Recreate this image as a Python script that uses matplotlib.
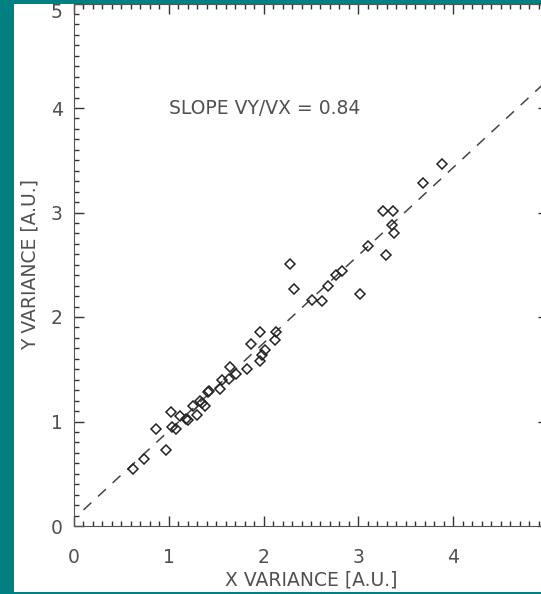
import matplotlib.pyplot as plt
import numpy as np
from matplotlib.patches import Rectangle
from matplotlib.ticker import MultipleLocator

# scatter values
x_var = [0.62, 0.74, 0.97, 0.86, 1.02, 1.03, 1.08, 1.12, 1.18, 1.20, 1.26, 1.30,
         1.33, 1.35, 1.38, 1.41, 1.54, 1.42, 1.56, 1.64, 1.65, 1.71, 1.82, 1.87,
         1.96, 1.98, 1.96, 2.02, 2.12, 2.13, 2.28, 2.32, 2.51, 2.62, 2.68, 2.76,
         2.83, 3.02, 3.10, 3.29, 3.26, 3.36, 3.35, 3.38, 3.68, 3.88]
y_var = [0.55, 0.64, 0.73, 0.93, 1.09, 0.95, 0.93, 1.05, 1.02, 1.01, 1.15, 1.06,
         1.20, 1.18, 1.15, 1.28, 1.31, 1.29, 1.40, 1.41, 1.52, 1.45, 1.50, 1.74,
         1.86, 1.64, 1.58, 1.68, 1.78, 1.86, 2.51, 2.27, 2.16, 2.15, 2.30, 2.40,
         2.44, 2.22, 2.68, 2.59, 3.01, 3.01, 2.88, 2.80, 3.28, 3.46]
slope = 0.84
offset = 0.07
ticks = [0, 1, 2, 3, 4, 5]
xticklabels = ['0', '1', '2', '3', '4', '']
yticklabels = ['0', '1', '2', '3', '4', '5']

txt = '#505050'

fig = plt.figure(figsize=(5.41, 5.94), dpi=100, facecolor='#008080')
# white panel inside the teal frame
fig.patches.append(Rectangle((14/541, 2/594), 1, 588/594, transform=fig.transFigure,
                             facecolor='white', edgecolor='none', zorder=-10))

ax = fig.add_axes([74/541, 68/594, 474/541, 522.5/594])
ax.set_facecolor('white')

fit_x = np.array([0.1, 5.0])
ax.plot(fit_x, slope*fit_x + offset, color='#444444', lw=1.1, dashes=(7, 6))
ax.plot(x_var, y_var, 'D', ms=4.8, mfc='none', mec='#222222', mew=1.1)

ax.set_xlim(0, 5)
ax.set_ylim(0, 5)
ax.set_xticks(ticks, xticklabels)
ax.set_yticks(ticks, yticklabels)
ax.xaxis.set_minor_locator(MultipleLocator(0.1))
ax.yaxis.set_minor_locator(MultipleLocator(0.1))
ax.tick_params(which='both', direction='in', top=True, right=True,
               color='#333333', labelcolor=txt, labelsize=13.5)
ax.tick_params(which='major', length=7, width=1)
ax.tick_params(which='minor', length=3.5, width=1)
ax.tick_params(axis='x', which='major', pad=16)
ax.tick_params(axis='y', which='major', pad=8)
ax.get_yticklabels()[-1].set_va('top')
for s in ax.spines.values():
    s.set_color('#555555')

ax.set_xlabel('X VARIANCE [A.U.]', fontsize=13.5, color=txt, labelpad=2)
ax.set_ylabel('Y VARIANCE [A.U.]', fontsize=13.5, color=txt, labelpad=8)
ax.text(1.0, 4.0, 'SLOPE VY/VX = 0.84', fontsize=13.5, color=txt, va='center')

fig.savefig('out.png', dpi=100, facecolor=fig.get_facecolor())
